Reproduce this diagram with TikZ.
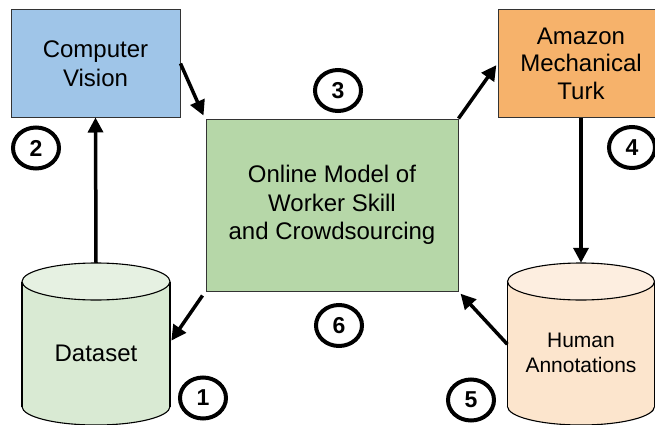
\documentclass[tikz,border=0pt]{standalone}
\usepackage{fontspec}
\setmainfont{Liberation Sans}
\usetikzlibrary{shapes.geometric,arrows.meta}
\definecolor{cvblue}{HTML}{9FC5E8}
\definecolor{amtorange}{HTML}{F6B26B}
\definecolor{omgreen}{HTML}{B6D7A8}
\definecolor{dsbody}{HTML}{D9EAD3}
\definecolor{dstop}{HTML}{E6F1E2}
\definecolor{habody}{HTML}{FCE5CD}
\definecolor{hatop}{HTML}{FDEEE0}
\definecolor{edge}{HTML}{333333}
\begin{document}
\begin{tikzpicture}[x=1pt,y=-1pt,
  box/.style={draw=edge, line width=1pt, rectangle, inner sep=0pt, align=center,
    font=\fontsize{24}{28.5}\selectfont},
  cyl/.style={draw=black, line width=1.1pt},
  lbl/.style={inner sep=0pt, align=center},
  num/.style={ellipse, draw=black, line width=4pt, minimum width=46pt, minimum height=41pt,
    inner sep=0pt, font=\bfseries\fontsize{23}{23}\selectfont},
  arr/.style={line width=3.5pt, -{Triangle[length=15pt,width=15pt]}}]
\useasboundingbox (0,0) rectangle (655,425);

% boxes
\node[box, fill=cvblue, minimum width=169pt, minimum height=107pt] (cv) at (95.5,63.5) {Computer\\Vision};
\node[box, fill=amtorange, minimum width=166pt, minimum height=107pt, font=\fontsize{24}{27.5}\selectfont] (amt) at (581,63.5) {Amazon\\Mechanical\\Turk};
\node[box, fill=omgreen, minimum width=252pt, minimum height=172pt] (om) at (332,205) {Online Model of\\Worker Skill\\and Crowdsourcing};

% Dataset cylinder
\filldraw[cyl, fill=dsbody] (96,406.5) ellipse [x radius=74pt, y radius=18.5pt];
\fill[dsbody] (22,281.5) rectangle (170,406.5);
\draw[cyl] (22,281.5) -- (22,406.5) (170,281.5) -- (170,406.5);
\filldraw[cyl, fill=dstop] (96,281.5) ellipse [x radius=74pt, y radius=18.5pt];
\node[lbl, minimum width=148pt, minimum height=143.5pt, font=\fontsize{24}{28.5}\selectfont] (ds) at (96,353.25) {Dataset};

% Human annotations cylinder
\filldraw[cyl, fill=habody] (581,406.5) ellipse [x radius=73.5pt, y radius=18.5pt];
\fill[habody] (507.5,281.5) rectangle (654.5,406.5);
\draw[cyl] (507.5,281.5) -- (507.5,406.5) (654.5,281.5) -- (654.5,406.5);
\filldraw[cyl, fill=hatop] (581,281.5) ellipse [x radius=73.5pt, y radius=18.5pt];
\node[lbl, minimum width=147pt, minimum height=143.5pt, font=\fontsize{21}{25}\selectfont] (ha) at (581,353.25) {Human\\Annotations};

% connectors
\draw[arr] ([yshift=18.5pt]ds.north) -- (cv.south);
\draw[arr] (cv.east) -- ([shift={(-2pt,3pt)}]om.north west);
\draw[arr, shorten >=2pt] (om.north east) -- (amt.west);
\draw[arr] (amt.south) -- ([yshift=18.5pt]ha.north);
\draw[arr, shorten >=3pt] ([yshift=9pt]ha.west) -- (om.south east);
\draw[arr, shorten >=2pt] ([shift={(-3pt,-4pt)}]om.south west) -- ([yshift=11pt]ds.east);

% step numbers
\node[num] (n1) at (203,398) {1};
\node[num] (n2) at (36,148) {2};
\node[num] (n3) at (338,90.5) {3};
\node[num] (n4) at (632,147.5) {4};
\node[num] (n5) at (471,400) {5};
\node[num] (n6) at (339,325.5) {6};
\end{tikzpicture}
\end{document}
